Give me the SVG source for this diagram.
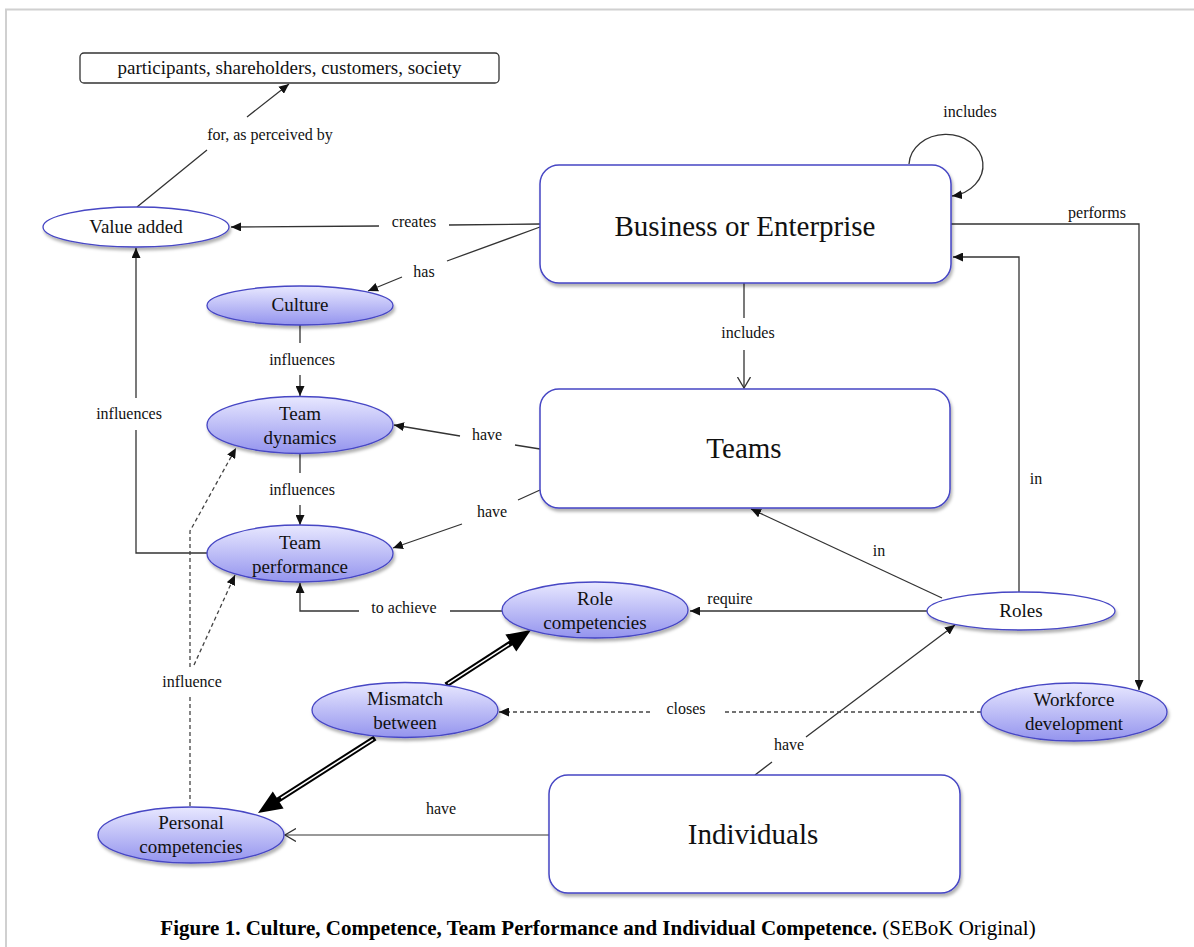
<svg xmlns="http://www.w3.org/2000/svg" width="1194" height="947" viewBox="0 0 1194 947">
<style>
.t{font-family:"Liberation Serif","DejaVu Serif",serif;fill:#111;text-anchor:middle}
.big{font-size:29px}
.nl{font-size:19px}
.el{font-size:16px}
.ln{fill:none;stroke:#333;stroke-width:1.3}
.dash{fill:none;stroke:#444;stroke-width:1.3;stroke-dasharray:4 3}
.box{fill:#fff;stroke:#4646c4;stroke-width:1.5;filter:url(#shadow)}
.ell{fill:url(#blueFill);stroke:#4646c4;stroke-width:1.3;filter:url(#shadow)}
.ellw{fill:#fff;stroke:#4646c4;stroke-width:1.3;filter:url(#shadow)}
</style>
<defs>
<linearGradient id="blueFill" x1="0" y1="0" x2="0" y2="1"><stop offset="0" stop-color="#e8e8ff"/><stop offset="1" stop-color="#9494ee"/></linearGradient>
<filter id="shadow" x="-10%" y="-15%" width="130%" height="150%"><feDropShadow dx="1.5" dy="3" stdDeviation="1.8" flood-color="#000" flood-opacity="0.3"/></filter>
<marker id="arrow" markerUnits="userSpaceOnUse" markerWidth="11" markerHeight="9" refX="10" refY="4.5" orient="auto"><path d="M0,0 L10,4.5 L0,9 z" fill="#111"/></marker>
<marker id="open" markerUnits="userSpaceOnUse" markerWidth="13" markerHeight="14" refX="11" refY="7" orient="auto"><path d="M0,0.5 L11,7 L0,13.5" fill="none" stroke="#333" stroke-width="1.3"/></marker>
</defs>
<rect width="1194" height="947" fill="#fff"/>
<path d="M6,947 L6,9.5 L1194,9.5" fill="none" stroke="#d0d0d0" stroke-width="2"/>

<g id="connectors">
<path class="ln" d="M137,207 L207,150 M247,117 L289,84" marker-end="url(#arrow)"/>
<text class="t el" x="270" y="140">for, as perceived by</text>
<path class="ln" d="M540,224 L449,225 M379,226 L231,227" marker-end="url(#arrow)"/>
<text class="t el" x="414" y="227">creates</text>
<path class="ln" d="M540,227 L447,261 M402,277 L368,291" marker-end="url(#arrow)"/>
<text class="t el" x="424" y="277">has</text>
<path class="ln" d="M909,164 A37,31 0 1 1 952,196" marker-end="url(#arrow)"/>
<text class="t el" x="970" y="117">includes</text>
<path class="ln" d="M951,224 L1139,224 L1139,690" marker-end="url(#arrow)"/>
<text class="t el" x="1097" y="218">performs</text>
<path class="ln" d="M1019,592 L1019,257 L953,257" marker-end="url(#arrow)"/>
<text class="t el" x="1036" y="484">in</text>
<path class="ln" d="M744,283 L744,318 M744,350 L744,388" marker-end="url(#open)"/>
<text class="t el" x="748" y="338">includes</text>
<path class="ln" d="M540,449 L515,445 M460,436 L394,425" marker-end="url(#arrow)"/>
<text class="t el" x="487" y="440">have</text>
<path class="ln" d="M540,490 L518,500 M462,524 L393,548" marker-end="url(#arrow)"/>
<text class="t el" x="492" y="517">have</text>
<path class="ln" d="M300,324 L300,343 M300,375 L300,396" marker-end="url(#arrow)"/>
<text class="t el" x="302" y="365">influences</text>
<path class="ln" d="M300,454 L300,473 M300,505 L300,525" marker-end="url(#arrow)"/>
<text class="t el" x="302" y="495">influences</text>
<path class="ln" d="M208,553 L136,553 L136,430 M136,398 L136,248" marker-end="url(#arrow)"/>
<text class="t el" x="129" y="419">influences</text>
<path class="ln" d="M942,598 L751,509" marker-end="url(#arrow)"/>
<text class="t el" x="879" y="556">in</text>
<path class="ln" d="M928,611 L690,611" marker-end="url(#arrow)"/>
<text class="t el" x="730" y="604">require</text>
<path class="ln" d="M503,611 L450,611 M359,611 L300,611 L300,583" marker-end="url(#arrow)"/>
<text class="t el" x="404" y="613">to achieve</text>
<path class="ln" d="M755,775 L772,762 M806,737 L955,625" marker-end="url(#arrow)"/>
<text class="t el" x="789" y="750">have</text>
<path d="M549,835 L285,835" fill="none" stroke="#777" stroke-width="1.5" marker-end="url(#open)"/>
<text class="t el" x="441" y="814">have</text>
<path class="dash" d="M981,712 L722,712 M650,712 L499,712" marker-end="url(#arrow)"/>
<text class="t el" x="686" y="714">closes</text>
<path class="dash" d="M190,806 L190,697 M190,667 L190,531 L236,448" marker-end="url(#arrow)"/>
<path class="dash" d="M194,665 L235,575" marker-end="url(#arrow)"/>
<text class="t el" x="192" y="687">influence</text>
<g id="mismatch-arrows">
<path d="M446,685 L514,641" stroke="#000" stroke-width="5.5" fill="none"/>
<path d="M448,683.7 L509,644.3" stroke="#fff" stroke-width="1.6" fill="none"/>
<polygon points="531,630 516.3,651.4 505.4,634.6" fill="#000"/>
<path d="M375,738 L275,802" stroke="#000" stroke-width="5.5" fill="none"/>
<path d="M373,739.3 L281,798.2" stroke="#fff" stroke-width="1.6" fill="none"/>
<polygon points="258,813 283.6,808.5 272.8,791.6" fill="#000"/>
</g>
</g>

<g id="participants">
<rect x="80" y="53" width="419" height="30" rx="4" fill="#fff" stroke="#333" stroke-width="1.3"/>
<text class="t nl" x="289.5" y="74">participants, shareholders, customers, society</text>
</g>
<g id="value-added">
<ellipse class="ellw" cx="136" cy="227" rx="93" ry="20"/>
<text class="t nl" x="136" y="233">Value added</text>
</g>
<g id="business">
<rect class="box" x="540" y="165" width="411" height="118" rx="19"/>
<text class="t big" x="745" y="236">Business or Enterprise</text>
</g>
<g id="teams">
<rect class="box" x="540" y="389" width="410" height="119" rx="19"/>
<text class="t big" x="744" y="458">Teams</text>
</g>
<g id="individuals">
<rect class="box" x="549" y="775" width="411" height="118" rx="19"/>
<text class="t big" x="753" y="844">Individuals</text>
</g>
<g id="culture">
<ellipse class="ell" cx="300" cy="305.5" rx="93" ry="19.5"/>
<text class="t nl" x="300" y="311">Culture</text>
</g>
<g id="team-dynamics">
<ellipse class="ell" cx="300" cy="425" rx="93" ry="28.5"/>
<text class="t nl" x="300" y="420">Team</text>
<text class="t nl" x="300" y="444">dynamics</text>
</g>
<g id="team-performance">
<ellipse class="ell" cx="300" cy="553.5" rx="93" ry="28.5"/>
<text class="t nl" x="300" y="549">Team</text>
<text class="t nl" x="300" y="573">performance</text>
</g>
<g id="role-competencies">
<ellipse class="ell" cx="595" cy="610" rx="93" ry="28"/>
<text class="t nl" x="595" y="605">Role</text>
<text class="t nl" x="595" y="629">competencies</text>
</g>
<g id="roles">
<ellipse class="ellw" cx="1021" cy="611" rx="94" ry="19"/>
<text class="t nl" x="1021" y="617">Roles</text>
</g>
<g id="mismatch">
<ellipse class="ell" cx="405" cy="710" rx="93" ry="27.5"/>
<text class="t nl" x="405" y="705">Mismatch</text>
<text class="t nl" x="405" y="729">between</text>
</g>
<g id="workforce">
<ellipse class="ell" cx="1074" cy="712" rx="93" ry="29"/>
<text class="t nl" x="1074" y="706">Workforce</text>
<text class="t nl" x="1074" y="730">development</text>
</g>
<g id="personal-competencies">
<ellipse class="ell" cx="191" cy="835" rx="93" ry="28"/>
<text class="t nl" x="191" y="829">Personal</text>
<text class="t nl" x="191" y="853">competencies</text>
</g>

<text x="598" y="935" style="font-family:'Liberation Serif','DejaVu Serif',serif;font-size:21px;fill:#000;text-anchor:middle"><tspan font-weight="bold">Figure 1. Culture, Competence, Team Performance and Individual Competence.</tspan> (SEBoK Original)</text>
</svg>
